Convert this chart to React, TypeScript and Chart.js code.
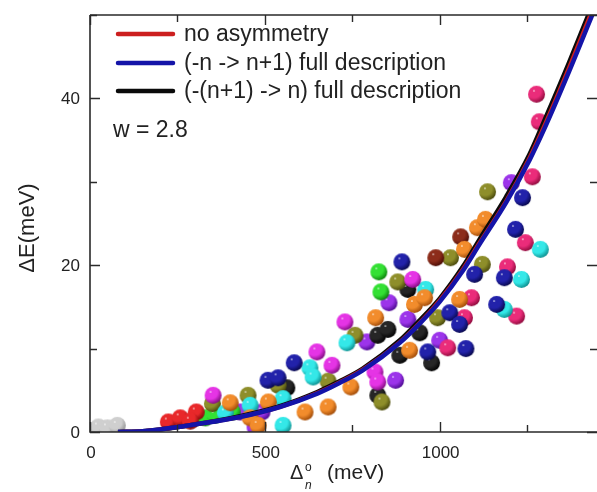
import React, { useEffect, useRef } from 'react';
import { Chart, registerables } from 'chart.js';
Chart.register(...registerables);

const FONT = '"Liberation Sans", Arial, Helvetica, sans-serif';

// ---- axis ticks ----
const xTickValues = [0, 250, 500, 750, 1000, 1250];
const xLabelValues = [0, 500, 1000];
const yTickValues = [0, 10, 20, 30, 40, 50];
const yLabelValues = [0, 20, 40];

// ---- model curves ----
const curveX = [80, 150, 200, 300, 429, 543, 650, 715, 780, 886, 943, 1000, 1066, 1114, 1190, 1257, 1300, 1370, 1450];
const blueY = [0, 0.1, 0.3, 0.9, 1.8, 3.0, 4.6, 5.9, 7.4, 10.7, 13.0, 15.6, 19.3, 22.5, 27.5, 32.6, 36.4, 43.2, 51.4];
const redY = [0, 0.1, 0.3, 0.9, 1.8, 3.0, 4.7, 6.0, 7.5, 10.8, 13.1, 15.8, 19.5, 22.7, 27.7, 32.9, 36.8, 43.7, 52.0];
const blackY = [0, 0.1, 0.3, 0.9, 1.9, 3.1, 4.8, 6.1, 7.6, 11.0, 13.4, 16.0, 19.8, 23.1, 28.2, 33.3, 37.4, 44.3, 52.6];

// ---- measured points, grouped by marker colour ----
const grayPts = [[24, 0.6], [50, 0.5], [78, 0.8]];
const redPts = [[224, 1.2], [258, 1.7], [304, 2.4], [287, 1.3]];
const greenPts = [[330, 1.7], [358, 2.0], [407, 2.4], [832, 16.8], [826, 19.2]];
const magentaPts = [[352, 4.4], [649, 9.6], [692, 8.0], [729, 13.2], [815, 7.2], [923, 18.3], [823, 6.0]];
const olivePts = [[350, 3.4], [452, 4.4], [538, 5.6], [681, 6.1], [758, 11.6], [880, 18.0], [1031, 20.9], [994, 13.7], [1122, 20.1], [1137, 28.8], [835, 3.6]];
const orangePts = [[401, 3.5], [458, 1.7], [510, 3.6], [481, 0.8], [615, 2.4], [681, 3.0], [746, 5.4], [817, 13.7], [928, 15.3], [957, 16.1], [914, 9.8], [1057, 15.9], [1108, 24.5], [1131, 25.5], [1071, 21.9]];
const cyanPts = [[387, 2.3], [458, 3.2], [552, 4.0], [552, 0.8], [629, 7.7], [638, 6.6], [735, 10.7], [960, 17.1], [1185, 14.7], [1234, 18.3], [1288, 21.9]];
const purplePts = [[429, 2.4], [492, 2.4], [472, 0.6], [792, 10.8], [855, 15.5], [874, 6.2], [909, 13.5], [1000, 11.0], [1205, 29.9]];
const bluePts = [[509, 6.2], [538, 6.5], [584, 8.3], [892, 20.4], [1029, 14.3], [1057, 12.9], [966, 9.6], [1075, 10.0], [1100, 18.9], [1185, 18.5], [1163, 15.3], [1217, 24.3], [1237, 28.1]];
const blackPts = [[563, 5.3], [823, 11.6], [852, 12.3], [823, 4.4], [909, 17.1], [886, 9.2], [943, 11.9], [977, 8.3]];
const darkRedPts = [[989, 20.9], [1060, 23.4]];
const pinkPts = [[1091, 16.1], [1071, 13.7], [1023, 10.1], [1194, 19.8], [1245, 22.7], [1220, 13.9], [1265, 30.6], [1277, 40.5], [1285, 37.2]];

const legendLabels = ['no asymmetry', '(-n -> n+1) full description', '(-(n+1) -> n) full description'];
const annotation = 'w = 2.8';

function makeSphere(base: string, dark: string, r: number) {
  const c = document.createElement('canvas');
  const s = Math.ceil(r * 2) + 2;
  c.width = s;
  c.height = s;
  const ctx = c.getContext('2d')!;
  const cx = s / 2, cy = s / 2;
  const hx = cx - r * 0.3, hy = cy - r * 0.4;
  const g = ctx.createRadialGradient(hx, hy, 0, hx, hy, r * 1.5);
  g.addColorStop(0, '#ffffff');
  g.addColorStop(0.1, base);
  g.addColorStop(0.55, base);
  g.addColorStop(1, dark);
  ctx.fillStyle = g;
  ctx.beginPath();
  ctx.arc(cx, cy, r, 0, Math.PI * 2);
  ctx.fill();
  return c;
}

const decor = {
  id: 'decor',
  afterDraw(chart: any) {
    const { ctx, chartArea: a, scales } = chart;
    const xs = scales.x, ys = scales.y;
    ctx.save();
    ctx.strokeStyle = '#2a2a2a';
    ctx.lineWidth = 1.6;
    ctx.beginPath();
    ctx.moveTo(a.left, a.top);
    ctx.lineTo(a.left, a.bottom);
    ctx.lineTo(a.right, a.bottom);
    ctx.moveTo(a.left, a.top);
    ctx.lineTo(a.right, a.top);
    ctx.stroke();
    ctx.lineWidth = 1.4;
    ctx.beginPath();
    for (const v of xTickValues) {
      const px = Math.round(xs.getPixelForValue(v)) + 0.5;
      const len = xLabelValues.includes(v) ? 10 : 7;
      ctx.moveTo(px, a.bottom);
      ctx.lineTo(px, a.bottom - len);
      ctx.moveTo(px, a.top);
      ctx.lineTo(px, a.top + len);
    }
    for (const v of yTickValues) {
      const py = Math.round(ys.getPixelForValue(v)) + 0.5;
      const len = yLabelValues.includes(v) ? 10 : 7;
      ctx.moveTo(a.left, py);
      ctx.lineTo(a.left + len, py);
      ctx.moveTo(a.right, py);
      ctx.lineTo(a.right - len, py);
    }
    ctx.stroke();

    // tick labels
    ctx.fillStyle = '#222';
    ctx.font = `17px ${FONT}`;
    ctx.textBaseline = 'middle';
    ctx.textAlign = 'center';
    for (const v of xLabelValues) ctx.fillText(String(v), xs.getPixelForValue(v) + 1, a.bottom + 21);
    ctx.textAlign = 'right';
    for (const v of yLabelValues) ctx.fillText(String(v), a.left - 10, ys.getPixelForValue(v) + 1);

    // legend
    const legColors = ['#cc1f1f', '#1414a8', '#0a0a0a'];
    const rows = [34, 63, 91];
    ctx.lineWidth = 4.5;
    ctx.lineCap = 'round';
    legColors.forEach((c, i) => {
      ctx.strokeStyle = c;
      ctx.beginPath();
      ctx.moveTo(118, rows[i]);
      ctx.lineTo(173, rows[i]);
      ctx.stroke();
    });
    ctx.fillStyle = '#222';
    ctx.font = `23px ${FONT}`;
    ctx.textBaseline = 'middle';
    ctx.textAlign = 'left';
    legendLabels.forEach((t, i) => ctx.fillText(t, 184, rows[i] + 1));
    ctx.fillText(annotation, 113, 131);

    // y title
    ctx.save();
    ctx.translate(28, 228);
    ctx.rotate(-Math.PI / 2);
    ctx.textAlign = 'center';
    ctx.font = `22px ${FONT}`;
    ctx.fillText('ΔE(meV)', 0, 0);
    ctx.restore();

    // x title
    ctx.textBaseline = 'alphabetic';
    ctx.textAlign = 'left';
    ctx.font = `20px ${FONT}`;
    ctx.fillText('Δ', 290, 479);
    ctx.font = `12px ${FONT}`;
    ctx.fillText('o', 305, 471);
    ctx.font = `italic 12px ${FONT}`;
    ctx.fillText('n', 305, 489);
    ctx.font = `21px ${FONT}`;
    ctx.fillText('(meV)', 327, 479);
    ctx.restore();
  },
};

export default function App() {
  const ref = useRef<HTMLCanvasElement>(null);
  useEffect(() => {
    const r = 8.5;
    const toXY = (pts: number[][]) => pts.map(([x, y]) => ({ x, y }));
    const groups: [number[][], string, string][] = [
      [grayPts, '#cfcfcf', '#8c8c8c'],
      [redPts, '#e8282a', '#7a0808'],
      [greenPts, '#33e033', '#0a7a0a'],
      [magentaPts, '#e534e5', '#7a0a7a'],
      [olivePts, '#8e8e2a', '#44440a'],
      [orangePts, '#f28c2c', '#9a4606'],
      [cyanPts, '#34e8e8', '#0a8888'],
      [purplePts, '#9c34ea', '#46088a'],
      [bluePts, '#2222aa', '#060644'],
      [blackPts, '#262626', '#000000'],
      [darkRedPts, '#8c2c1a', '#440a04'],
      [pinkPts, '#ea2c7a', '#880838'],
    ];
    const scatterSets = groups.map(([pts, base, dark], i) => ({
      type: 'scatter' as const,
      data: toXY(pts),
      pointStyle: makeSphere(base, dark, r) as any,
      pointRadius: r,
      showLine: false,
      order: 10 + ((i * 5) % groups.length),
    }));
    const line = (ys: number[], color: string, w: number, order: number) => ({
      type: 'line' as const,
      data: curveX.map((x, i) => ({ x, y: ys[i] })),
      borderColor: color,
      borderWidth: w,
      pointRadius: 0,
      fill: false,
      cubicInterpolationMode: 'monotone' as const,
      order,
    });
    const chart = new Chart(ref.current!, {
      type: 'scatter',
      data: {
        datasets: [
          line(blueY, '#1414a8', 4.5, 0),
          line(redY, '#cc1f1f', 4, 1),
          line(blackY, '#0a0a0a', 4.5, 2),
          ...scatterSets,
        ] as any,
      },
      plugins: [decor],
      options: {
        animation: false,
        responsive: false,
        events: [],
        layout: { autoPadding: false, padding: { top: 15, right: 0, left: 0, bottom: 0 } },
        plugins: { legend: { display: false }, tooltip: { enabled: false } },
        scales: {
          x: {
            type: 'linear',
            min: 0,
            max: 1450,
            grid: { display: false },
            border: { display: false },
            ticks: { display: false },
            afterFit: (s: any) => { s.height = 60; },
          },
          y: {
            type: 'linear',
            min: 0,
            max: 50,
            grid: { display: false },
            border: { display: false },
            ticks: { display: false },
            afterFit: (s: any) => { s.width = 90; },
          },
        },
      },
    });
    return () => chart.destroy();
  }, []);
  return (
    <div style={{ position: 'fixed', left: 0, top: 0, width: 597, height: 492, background: '#fff' }}>
      <canvas ref={ref} width={597} height={492} style={{ display: 'block' }} />
    </div>
  );
}
